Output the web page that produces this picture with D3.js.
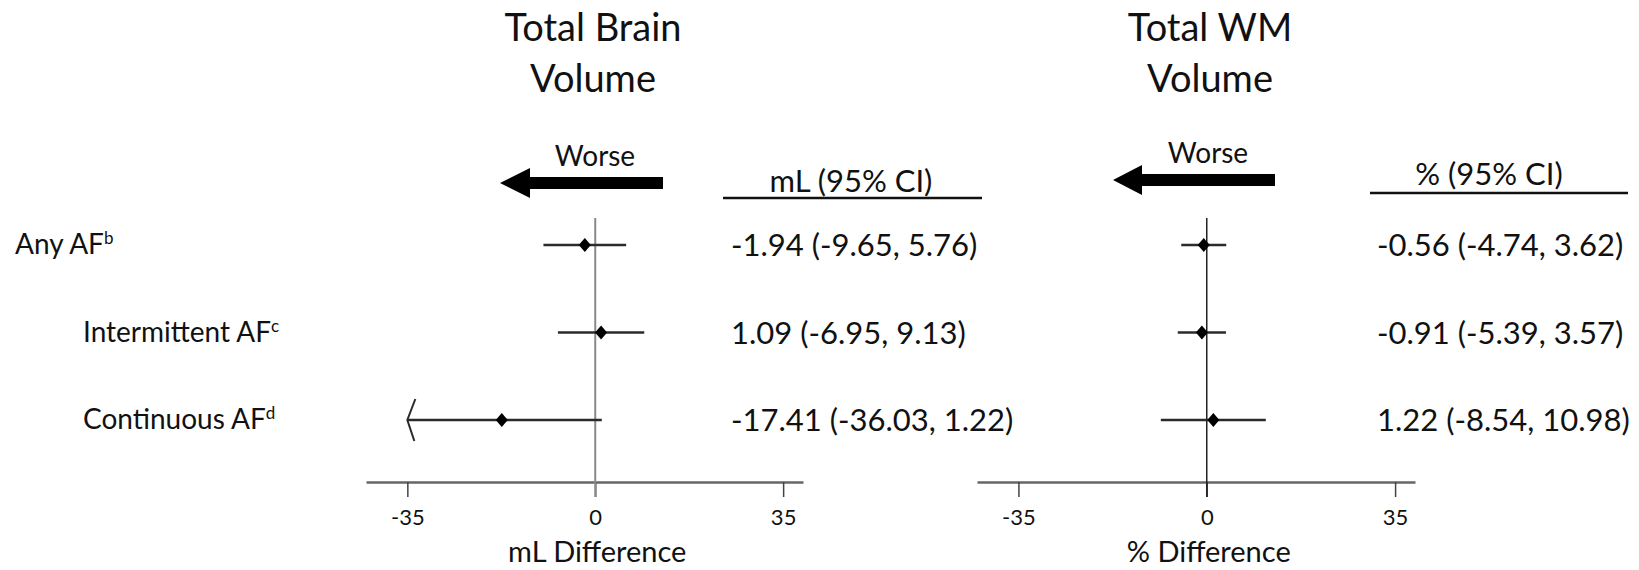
<!DOCTYPE html>
<html>
<head>
<meta charset="utf-8">
<script src="https://cdn.jsdelivr.net/npm/d3@7"></script>
<style>
  html, body { margin: 0; padding: 0; background: #fff; }
  svg { display: block; }
  text { font-family: Lato, "Open Sans", sans-serif; fill: #111; }
</style>
</head>
<body>
<svg id="chart" width="1639" height="570"></svg>
<script>
// ---------------- DATA ----------------
const categories = ["Any AF", "Intermittent AF", "Continuous AF"];
const superscripts = ["b", "c", "d"];

const brainEst   = [-1.94, 1.09, -17.41];
const brainLower = [-9.65, -6.95, -36.03];
const brainUpper = [5.76, 9.13, 1.22];

const wmEst   = [-0.56, -0.91, 1.22];
const wmLower = [-4.74, -5.39, -8.54];
const wmUpper = [3.62, 3.57, 10.98];

const tickValues = [-35, 0, 35];
const axisLimit = -35;           // intervals beyond this are truncated with an arrow
const xDomain = [-42.7, 38.7];

const panelTitles = [["Total Brain", "Volume"], ["Total WM", "Volume"]];
const headerLabels = ["mL (95% CI)", "% (95% CI)"];
const axisTitles = ["mL Difference", "% Difference"];
const directionLabel = "Worse";

// ---------------- LAYOUT ----------------
const svg = d3.select("#chart");
const locale = d3.formatLocale({ decimal: ".", thousands: ",", grouping: [3], currency: ["", ""], minus: "-" });
const fmt = locale.format(".2f");
const fmtInt = locale.format("d");

const y = d3.scalePoint().domain(categories).range([245, 420]);

const panels = [
  {
    est: brainEst, lo: brainLower, hi: brainUpper,
    x: d3.scaleLinear().domain(xDomain).range([366, 803]),
    zeroColor: "#8a8a8a", zeroWidth: 2,
    titleX: 593, worseX: 595, worseY: 166,
    arrow: { tip: 500, base: 530, end: 663, y: 183 },
    header: { cx: 851, y: 192, lineX: [723, 982], lineY: 198 },
    valuesX: 731,
    title: panelTitles[0], headerLabel: headerLabels[0], axisTitle: axisTitles[0]
  },
  {
    est: wmEst, lo: wmLower, hi: wmUpper,
    x: d3.scaleLinear().domain(xDomain).range([977, 1415]),
    zeroColor: "#222", zeroWidth: 1.5,
    titleX: 1210, worseX: 1208, worseY: 163,
    arrow: { tip: 1113, base: 1142, end: 1275, y: 180 },
    header: { cx: 1489, y: 185, lineX: [1370, 1628], lineY: 193 },
    valuesX: 1377,
    title: panelTitles[1], headerLabel: headerLabels[1], axisTitle: axisTitles[1]
  }
];

// row labels
const labelX = [15, 83, 83];
const rowLabels = svg.append("g");
categories.forEach((c, i) => {
  const t = rowLabels.append("text")
    .attr("x", labelX[i])
    .attr("y", y(c) + 9)
    .attr("font-size", 28);
  t.append("tspan").text(c);
  t.append("tspan").text(superscripts[i])
    .attr("font-size", 17).attr("dy", -10);
});

const axisY = 482;
const zeroTop = 218;

panels.forEach(p => {
  const g = svg.append("g");
  const x = p.x;

  // title
  p.title.forEach((line, i) => {
    g.append("text").attr("x", p.titleX).attr("y", 41 + i * 51)
      .attr("text-anchor", "middle").attr("font-size", 38).text(line);
  });

  // "Worse" and arrow
  g.append("text").attr("x", p.worseX).attr("y", p.worseY)
    .attr("text-anchor", "middle").attr("font-size", 28).text(directionLabel);
  const a = p.arrow;
  g.append("path")
    .attr("d", `M${a.tip},${a.y} L${a.base},${a.y - 15} L${a.base},${a.y - 6} L${a.end},${a.y - 6} L${a.end},${a.y + 6} L${a.base},${a.y + 6} L${a.base},${a.y + 15} Z`)
    .attr("fill", "#000");

  // header and underline
  g.append("text").attr("x", p.header.cx).attr("y", p.header.y)
    .attr("text-anchor", "middle").attr("font-size", 31).text(p.headerLabel);
  g.append("line")
    .attr("x1", p.header.lineX[0]).attr("x2", p.header.lineX[1])
    .attr("y1", p.header.lineY).attr("y2", p.header.lineY)
    .attr("stroke", "#111").attr("stroke-width", 2.5);

  // axis
  const axis = d3.axisBottom(x).tickValues(tickValues).tickSize(15).tickSizeOuter(0)
    .tickFormat(fmtInt);
  const ag = g.append("g").attr("transform", `translate(0,${axisY})`).call(axis);
  ag.select(".domain").attr("stroke", "#666").attr("stroke-width", 2.5);
  ag.selectAll(".tick line").attr("stroke", "#444").attr("stroke-width", 1.5);
  ag.selectAll(".tick text")
    .attr("font-family", "Lato, sans-serif").attr("font-size", 22)
    .attr("fill", "#111").attr("dy", "1.15em");

  // zero line
  g.append("line")
    .attr("x1", x(0)).attr("x2", x(0))
    .attr("y1", zeroTop).attr("y2", axisY + 15)
    .attr("stroke", p.zeroColor).attr("stroke-width", p.zeroWidth);

  // axis title
  g.append("text").attr("x", x(0) + 2).attr("y", 562)
    .attr("text-anchor", "middle").attr("font-size", 29).text(p.axisTitle);

  // CI lines + diamonds
  categories.forEach((c, i) => {
    const cy = y(c);
    const lo = Math.max(p.lo[i], axisLimit);
    g.append("line")
      .attr("x1", x(lo)).attr("x2", x(p.hi[i]))
      .attr("y1", cy).attr("y2", cy)
      .attr("stroke", "#2b2b2b").attr("stroke-width", 2.5);
    if (p.lo[i] < axisLimit) {
      const tx = x(axisLimit);
      g.append("path")
        .attr("d", `M${tx + 8},${cy - 21} L${tx},${cy} L${tx + 7},${cy + 21}`)
        .attr("fill", "none").attr("stroke", "#2b2b2b").attr("stroke-width", 2);
    }
    const ex = x(p.est[i]);
    g.append("path")
      .attr("d", `M${ex - 6},${cy} L${ex},${cy - 7} L${ex + 6},${cy} L${ex},${cy + 7} Z`)
      .attr("fill", "#000");

    // value text
    g.append("text").attr("x", p.valuesX).attr("y", cy + 11)
      .attr("font-size", 31)
      .text(`${fmt(p.est[i])} (${fmt(p.lo[i])}, ${fmt(p.hi[i])})`);
  });
});
</script>
</body>
</html>
